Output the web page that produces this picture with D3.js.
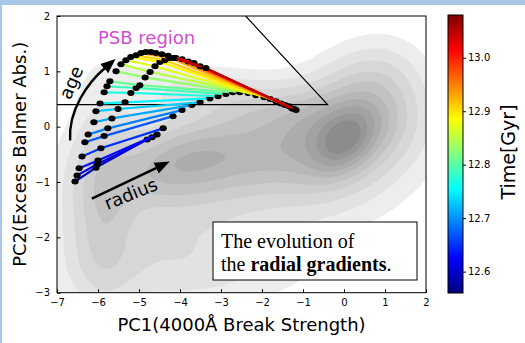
<!DOCTYPE html>
<html>
<head>
<meta charset="utf-8">
<script src="https://cdn.jsdelivr.net/npm/d3@7/dist/d3.min.js"></script>
<style>
  html, body { margin: 0; padding: 0; background: #fff; }
  svg { display: block; font-family: "DejaVu Sans", sans-serif; }
</style>
</head>
<body>
<svg id="chart" width="525" height="343"></svg>
<script>
// time of each radial profile (Gyr) and its three radial points (PC1, PC2)
const times    = [12.59, 12.61, 12.63, 12.65, 12.67, 12.69, 12.71, 12.73, 12.75, 12.77, 12.79, 12.81,
                  12.83, 12.85, 12.87, 12.89, 12.91, 12.93, 12.95, 12.97, 12.99, 13.01, 13.03, 13.05];
const outerPC1 = [-6.56, -6.51, -6.46, -6.39, -6.32, -6.24, -6.10, -6.05, -5.95, -5.85, -5.78, -5.71,
                  -5.56, -5.44, -5.32, -5.20, -5.07, -4.95, -4.83, -4.71, -4.59, -4.44, -4.29, -4.15];
const outerPC2 = [-0.99, -0.88, -0.75, -0.54, -0.28, -0.14, 0.08, 0.28, 0.42, 0.62, 0.73, 0.82,
                  1.00, 1.13, 1.20, 1.26, 1.29, 1.33, 1.35, 1.35, 1.33, 1.31, 1.28, 1.24];
const midPC1   = [-6.05, -6.02, -6.00, -5.93, -5.85, -5.76, -5.66, -5.51, -5.34, -5.20, -5.07, -4.98,
                  -4.85, -4.73, -4.61, -4.49, -4.37, -4.24, -4.10, -3.95, -3.80, -3.66, -3.51, -3.37];
const midPC2   = [-0.74, -0.68, -0.61, -0.39, -0.17, -0.03, 0.15, 0.32, 0.44, 0.61, 0.70, 0.75,
                  0.89, 0.99, 1.09, 1.17, 1.20, 1.24, 1.24, 1.22, 1.18, 1.15, 1.09, 1.06];
const innerPC1 = [-4.80, -4.68, -4.56, -4.41, -4.17, -3.95, -3.71, -3.51, -3.27, -3.07, -2.88, -2.71,
                  -2.54, -2.34, -2.15, -1.95, -1.80, -1.66, -1.54, -1.44, -1.34, -1.27, -1.22, -1.17];
const innerPC2 = [-0.23, -0.19, -0.14, -0.03, 0.19, 0.30, 0.39, 0.44, 0.51, 0.55, 0.59, 0.62,
                  0.62, 0.61, 0.57, 0.53, 0.50, 0.46, 0.42, 0.39, 0.37, 0.33, 0.32, 0.30];

// PSB selection boundary
const psbPC1 = [-7, -0.4, -2.4];
const psbPC2 = [0.4, 0.4, 2.0];

// background galaxy density, described as a few blobs
const blobPC1 = [0.0, 0.05, -2.6, -5.9, -4.2, -2.4, 0.8, -4.2, -1.8, -4.0];
const blobPC2 = [-0.25, -0.05, -0.5, -1.4, -2.0, 0.45, 0.6, -0.7, -0.8, -2.7];
const blobSx  = [0.5, 1.1, 1.9, 0.55, 1.9, 1.9, 0.75, 1.0, 3.2, 2.2];
const blobSy  = [0.32, 0.72, 0.55, 1.3, 0.7, 0.35, 0.6, 0.42, 1.0, 0.45];
const blobRot = [25, 20, 5, 0, 0, -8, 10, 10, 0, 0];
const blobAmp = [0.5, 0.5, 0.5, 0.3, 0.18, 0.2, 0.18, 0.25, 0.1, 0.1];

const xTicks = [-7, -6, -5, -4, -3, -2, -1, 0, 1, 2];
const yTicks = [-3, -2, -1, 0, 1, 2];
const cTicks = [12.6, 12.7, 12.8, 12.9, 13.0];
const jetStops = ["#00007f", "#0000ff", "#007fff", "#00ffff", "#7fff7f", "#ffff00", "#ff7f00", "#ff0000", "#7f0000"];

const svg = d3.select("#chart");
const L = 57, R = 426, T = 16, B = 292.7;
const x = d3.scaleLinear().domain([-7, 2]).range([L, R]);
const y = d3.scaleLinear().domain([-3, 2]).range([B, T]);
const cDomain = [12.56, 13.08];
const color = d3.scaleLinear()
  .domain(jetStops.map((d, i) => cDomain[0] + (cDomain[1] - cDomain[0]) * i / (jetStops.length - 1)))
  .range(jetStops);

// frame of the screenshot
svg.append("rect").attr("x", 0).attr("y", 0).attr("width", 525).attr("height", 5).attr("fill", "#a9c8e8");
svg.append("rect").attr("x", 0).attr("y", 0).attr("width", 2).attr("height", 343).attr("fill", "#a9c8e8");

svg.append("clipPath").attr("id", "plotclip")
  .append("rect").attr("x", L).attr("y", T).attr("width", R - L).attr("height", B - T);

// density background
const cell = 2;
const nx = Math.ceil((R - L) / cell), ny = Math.ceil((B - T) / cell);
const values = new Float64Array(nx * ny);
for (let j = 0; j < ny; j++) {
  for (let i = 0; i < nx; i++) {
    const X = x.invert(L + (i + 0.5) * cell), Y = y.invert(T + (j + 0.5) * cell);
    let v = 0;
    for (let k = 0; k < blobAmp.length; k++) {
      const a = blobRot[k] * Math.PI / 180;
      const dx = X - blobPC1[k], dy = Y - blobPC2[k];
      const u = dx * Math.cos(a) + dy * Math.sin(a);
      const w = -dx * Math.sin(a) + dy * Math.cos(a);
      v += blobAmp[k] * Math.exp(-0.5 * (u * u / (blobSx[k] * blobSx[k]) + w * w / (blobSy[k] * blobSy[k])));
    }
    values[j * nx + i] = v;
  }
}
const vmax = d3.max(values);
const levels = [0.06, 0.12, 0.19, 0.27, 0.35, 0.44, 0.53, 0.63, 0.74, 0.85].map(d => d * vmax);
const gray = d3.interpolateRgb("#ededed", "#8c8c8c");
const contours = d3.contours().size([nx, ny]).thresholds(levels)(values);
const path = d3.geoPath(d3.geoIdentity().scale(cell).translate([L, T]));
svg.append("g").attr("clip-path", "url(#plotclip)")
  .selectAll("path").data(contours).join("path")
  .attr("d", path)
  .attr("fill", (d, i) => gray(i / (levels.length - 1)))
  .attr("stroke", "none");

// PSB region boundary
const g = svg.append("g").attr("clip-path", "url(#plotclip)");
g.append("path")
  .attr("d", d3.line().x(d => x(d[0])).y(d => y(d[1]))(psbPC1.map((d, i) => [d, psbPC2[i]])))
  .attr("fill", "none").attr("stroke", "#000").attr("stroke-width", 1.2);

// radial profiles
times.forEach((t, i) => {
  const pts = [[outerPC1[i], outerPC2[i]], [midPC1[i], midPC2[i]], [innerPC1[i], innerPC2[i]]];
  g.append("path")
    .attr("d", d3.line().x(d => x(d[0])).y(d => y(d[1]))(pts))
    .attr("fill", "none").attr("stroke", color(t)).attr("stroke-width", 2.2);
  g.selectAll(null).data(pts).join("ellipse")
    .attr("cx", d => x(d[0])).attr("cy", d => y(d[1]))
    .attr("rx", 3.6).attr("ry", 3).attr("fill", "#000");
});

// arrows and labels
const defs = svg.append("defs");
defs.append("marker").attr("id", "head")
  .attr("markerUnits", "userSpaceOnUse").attr("markerWidth", 16).attr("markerHeight", 14)
  .attr("viewBox", "0 -7 16 14").attr("refX", 1).attr("refY", 0).attr("orient", "auto")
  .append("path").attr("d", "M0,-6L15,0L0,6Z").attr("fill", "#000");

const ageArrow = [[-6.68, -0.25], [-6.73, 0.30], [-6.24, 0.80], [-5.83, 1.06]].map(d => [x(d[0]), y(d[1])]);
svg.append("path")
  .attr("d", `M${ageArrow[0]}C${ageArrow[1]} ${ageArrow[2]} ${ageArrow[3]}`)
  .attr("fill", "none").attr("stroke", "#000").attr("stroke-width", 2.4)
  .attr("marker-end", "url(#head)");

const radArrow = [[-6.15, -1.30], [-4.56, -0.74]].map(d => [x(d[0]), y(d[1])]);
svg.append("path")
  .attr("d", `M${radArrow[0]}L${radArrow[1]}`)
  .attr("fill", "none").attr("stroke", "#000").attr("stroke-width", 2.4)
  .attr("marker-end", "url(#head)");

svg.append("text")
  .attr("transform", `translate(${x(-6.66)},${y(0.80)}) rotate(-67)`)
  .attr("text-anchor", "middle").attr("dominant-baseline", "central")
  .attr("font-size", 18).attr("fill", "#000").text("age");

svg.append("text")
  .attr("transform", `translate(${x(-5.20)},${y(-1.21)}) rotate(-22)`)
  .attr("text-anchor", "middle").attr("dominant-baseline", "central")
  .attr("font-size", 18).attr("fill", "#000").text("radius");

svg.append("text")
  .attr("x", 98).attr("y", 43.5)
  .attr("font-size", 18).attr("fill", "#d24dd2").text("PSB region");

// axes
const xAxis = svg.append("g").attr("transform", `translate(0,${B})`)
  .call(d3.axisBottom(x).tickValues(xTicks).tickFormat(d3.format("d")).tickSizeInner(-3.5).tickSizeOuter(0).tickPadding(6));
const yAxis = svg.append("g").attr("transform", `translate(${L},0)`)
  .call(d3.axisLeft(y).tickValues(yTicks).tickFormat(d3.format("d")).tickSizeInner(-3.5).tickSizeOuter(0).tickPadding(7));
[xAxis, yAxis].forEach(a => {
  a.select(".domain").remove();
  a.selectAll("text").attr("font-size", 10).attr("font-family", "DejaVu Sans").attr("fill", "#000");
  a.selectAll("line").attr("stroke", "#000");
});
svg.append("rect").attr("x", L).attr("y", T).attr("width", R - L).attr("height", B - T)
  .attr("fill", "none").attr("stroke", "#000").attr("stroke-width", 1);

svg.append("text").attr("x", (L + R) / 2).attr("y", 331)
  .attr("text-anchor", "middle").attr("font-size", 18).text("PC1(4000Å Break Strength)");
svg.append("text").attr("transform", `translate(26,${(T + B) / 2}) rotate(-90)`)
  .attr("text-anchor", "middle").attr("font-size", 18).text("PC2(Excess Balmer Abs.)");

// text box
svg.append("rect").attr("x", 213).attr("y", 222).attr("width", 204).attr("height", 58)
  .attr("fill", "#fff").attr("stroke", "#000").attr("stroke-width", 1);
const tb = svg.append("text").attr("font-family", "Liberation Serif, serif").attr("font-size", 20).attr("fill", "#000");
tb.append("tspan").attr("x", 221).attr("y", 248).text("The evolution of");
const l2 = tb.append("tspan").attr("x", 221).attr("y", 271);
l2.text("the ");
tb.append("tspan").attr("font-weight", "bold").text("radial gradients");
tb.append("tspan").text(".");

// colorbar
const cb = { x: 448, y: 15, w: 15, h: 278 };
const c = d3.scaleLinear().domain(cDomain).range([cb.y + cb.h, cb.y]);
const grad = defs.append("linearGradient").attr("id", "jet").attr("x1", 0).attr("y1", 1).attr("x2", 0).attr("y2", 0);
jetStops.forEach((s, i) => grad.append("stop").attr("offset", i / (jetStops.length - 1)).attr("stop-color", s));
svg.append("rect").attr("x", cb.x).attr("y", cb.y).attr("width", cb.w).attr("height", cb.h)
  .attr("fill", "url(#jet)").attr("stroke", "#000").attr("stroke-width", 1);
const cAxis = svg.append("g").attr("transform", `translate(${cb.x + cb.w},0)`)
  .call(d3.axisRight(c).tickValues(cTicks).tickFormat(d3.format(".1f")).tickSizeInner(3).tickSizeOuter(0).tickPadding(2));
cAxis.select(".domain").remove();
cAxis.selectAll("text").attr("font-size", 10).attr("font-family", "DejaVu Sans").attr("fill", "#000");
cAxis.selectAll("line").attr("stroke", "#000");
svg.append("text").attr("transform", `translate(515,152) rotate(-90)`)
  .attr("text-anchor", "middle").attr("font-size", 19).text("Time[Gyr]");
</script>
</body>
</html>
